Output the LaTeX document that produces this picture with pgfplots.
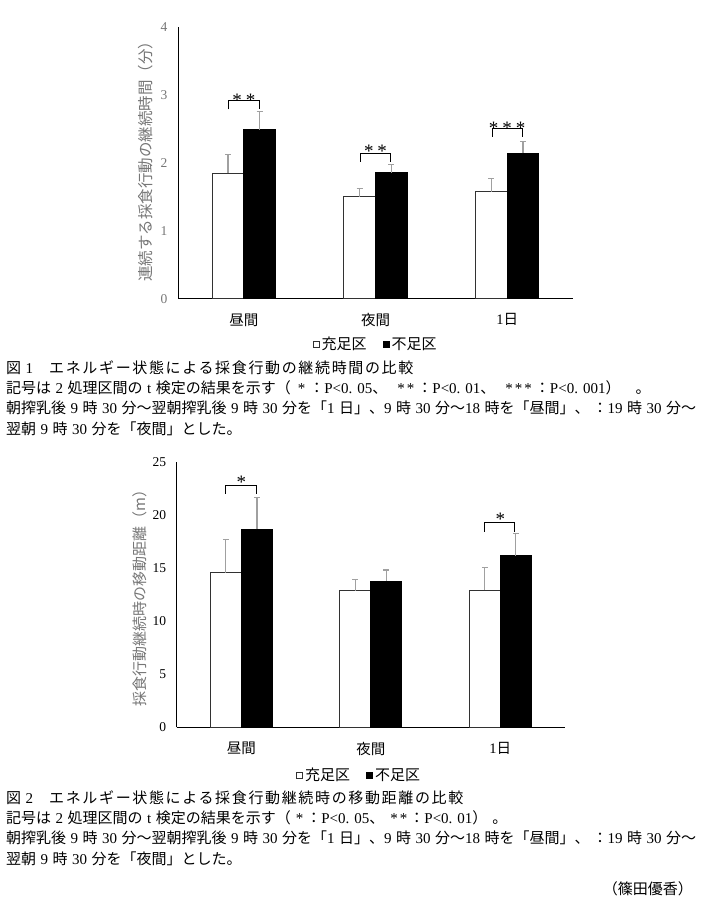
\documentclass[border=0pt]{standalone}
\usepackage{fontspec}
\setmainfont{Liberation Serif}
\newfontfamily\jp{Noto Sans CJK JP}
\usepackage{pgfplots}
\pgfplotsset{compat=1.18}
\definecolor{lblgray}{RGB}{118,118,118}
\definecolor{errgray}{RGB}{160,160,160}
\definecolor{edge}{RGB}{50,50,50}
\newcommand{\capfont}{\fontsize{15}{18}\selectfont}
\newcommand{\s}{\hspace{4.5pt}}
\tikzset{star/.style={anchor=base, font=\fontsize{19}{19}\selectfont}}
\pgfplotsset{
  mybars/.style={
    scale only axis,
    anchor=south west,
    xmin=-0.5, xmax=2.5,
    ymin=0,
    axis x line*=bottom,
    axis y line*=left,
    axis line style={black, line width=1pt},
    tick style={draw=none},
    /pgf/number format/assume math mode=true,
    xtick={0,1,2},
    xticklabels={{\jp 昼間},{\jp 夜間},{1\jp 日}},
    xticklabel style={font=\fontsize{14.5}{16}\selectfont, yshift=-11pt},
    yticklabel style={font=\fontsize{13.5}{15}\selectfont, xshift=-7pt},
    legend style={draw=none, fill=none, legend columns=2, font=\jp\fontsize{15}{17}\selectfont,
      /tikz/every even column/.append style={column sep=14pt}},
  },
  sq/.style={legend image code/.code={\draw[##1, line width=1pt] (0pt,-3pt) rectangle (6pt,3pt);}},
  errs/.style={sharp plot, draw=none, mark=none, forget plot,
      error bars/.cd, y dir=plus, y explicit,
      error bar style={draw=errgray, line width=1.2pt},
      error mark=-,
      error mark options={rotate=90, draw=errgray, line width=1.2pt, mark size=3pt}},
  brk/.style={black, line width=1pt, mark=none, forget plot},
}
\begin{document}
\begin{tikzpicture}[x=1pt,y=1pt]
\path[use as bounding box] (0,0) rectangle (705,900);

% ---------- Figure 1 ----------
\begin{axis}[mybars,
  at={(178pt,601pt)}, width=395pt, height=272pt,
  ymax=4, ytick={0,1,2,3,4},
  yticklabel style={color=lblgray},
  ylabel={連続する採食行動の継続時間（分）},
  ylabel style={at={(axis description cs:-0.081,0.52)}, anchor=center, color=lblgray, font=\jp\fontsize{15.5}{16}\selectfont},
  legend style={at={(0.50,-0.1665)}, anchor=center},
]
\addplot[ybar, sq, bar width=0.24, bar shift=-0.12, fill=white, draw=edge, line width=1pt]
  coordinates {(0,1.85) (1,1.50) (2,1.58)};
\addlegendentry{充足区}
\addplot[ybar, sq, bar width=0.24, bar shift=0.12, fill=black, draw=black, line width=1pt]
  coordinates {(0,2.49) (1,1.86) (2,2.14)};
\addlegendentry{不足区}
\addplot[errs] coordinates {(-0.12,1.85) +- (0,0.28) (0.88,1.50) +- (0,0.12) (1.88,1.58) +- (0,0.19)};
\addplot[errs] coordinates {(0.12,2.49) +- (0,0.27) (1.12,1.86) +- (0,0.12) (2.12,2.14) +- (0,0.18)};
\addplot[brk] coordinates {(-0.12,2.79) (-0.12,2.92) (0.12,2.92) (0.12,2.79)};
\addplot[brk] coordinates {(0.885,2.02) (0.885,2.143) (1.115,2.143) (1.115,2.02)};
\addplot[brk] coordinates {(1.885,2.387) (1.885,2.51) (2.115,2.51) (2.115,2.387)};
\node[star] at (axis cs:0,2.838) {*\hspace{4pt}*};
\node[star] at (axis cs:1,2.088) {*\hspace{4pt}*};
\node[star] at (axis cs:2,2.426) {*\hspace{4pt}*\hspace{4pt}*};
\end{axis}

% ---------- Figure 2 ----------
\begin{axis}[mybars,
  at={(176.7pt,172.7pt)}, width=388.3pt, height=265.6pt,
  ymax=25, ytick={0,5,10,15,20,25},
  ylabel={採食行動継続時の移動距離（m）},
  ylabel style={at={(axis description cs:-0.0945,0.5)}, anchor=center, color=lblgray, font=\jp\fontsize{15}{16}\selectfont},
  legend style={at={(0.47,-0.18)}, anchor=center},
]
\addplot[ybar, sq, bar width=0.24, bar shift=-0.12, fill=white, draw=edge, line width=1pt]
  coordinates {(0,14.56) (1,12.83) (2,12.90)};
\addlegendentry{充足区}
\addplot[ybar, sq, bar width=0.24, bar shift=0.12, fill=black, draw=black, line width=1pt]
  coordinates {(0,18.64) (1,13.75) (2,16.13)};
\addlegendentry{不足区}
\addplot[errs] coordinates {(-0.12,14.56) +- (0,3.08) (0.88,12.83) +- (0,1.10) (1.88,12.90) +- (0,2.17)};
\addplot[errs] coordinates {(0.12,18.64) +- (0,3.02) (1.12,13.75) +- (0,1.06) (2.12,16.13) +- (0,2.14)};
\addplot[brk] coordinates {(-0.12,22.0) (-0.12,22.79) (0.12,22.79) (0.12,22.0)};
\addplot[brk] coordinates {(1.88,18.39) (1.88,19.24) (2.11,19.24) (2.11,18.39)};
\node[star] at (axis cs:0,22.5) {*};
\node[star] at (axis cs:2,18.95) {*};
\end{axis}

% ---------- Captions ----------
\begin{scope}[every node/.style={anchor=west, inner sep=0pt, font=\capfont}]
\node at (6,532) {{\jp 図}\s 1\hspace{16pt}{\jp\addfontfeature{LetterSpace=11}エネルギー状態による採食行動の継続時間の比較}};
\node at (6,512) {{\jp 記号は}\s 2\s{\jp 処理区間の}\s t\s{\jp 検定の結果を示す（}\hspace{7pt}*\hspace{4pt}{\jp ：}P<0. 05{\jp 、}\hspace{10pt}*\hspace{2pt}*\hspace{3pt}{\jp ：}P<0. 01{\jp 、}\hspace{10pt}*\hspace{2pt}*\hspace{2pt}*\hspace{3pt}{\jp ：}P<0. 001{\jp ）}\hspace{15pt}{\jp 。}};
\node at (6,492) {{\jp 朝搾乳後}\s 9\s{\jp 時}\s 30\s{\jp 分～翌朝搾乳後}\s 9\s{\jp 時}\s 30\s{\jp 分を「}1\s{\jp 日」、}9\s{\jp 時}\s 30\s{\jp 分～}18\s{\jp 時を「昼間」、\hspace{3pt}：}19\s{\jp 時}\s 30\s{\jp 分～}};
\node at (6,471) {{\jp 翌朝}\s 9\s{\jp 時}\s 30\s{\jp 分を「夜間」とした。}};

\node at (6,102) {{\jp 図}\s 2\hspace{16pt}{\jp\addfontfeature{LetterSpace=11}エネルギー状態による採食行動継続時の移動距離の比較}};
\node at (6,82) {{\jp 記号は}\s 2\s{\jp 処理区間の}\s t\s{\jp 検定の結果を示す（}\hspace{5pt}*\hspace{3pt}{\jp ：}P<0. 05{\jp 、}\hspace{6pt}*\hspace{2pt}*\hspace{2pt}{\jp ：}P<0. 01{\jp ）}\hspace{5pt}{\jp 。}};
\node at (6,62) {{\jp 朝搾乳後}\s 9\s{\jp 時}\s 30\s{\jp 分～翌朝搾乳後}\s 9\s{\jp 時}\s 30\s{\jp 分を「}1\s{\jp 日」、}9\s{\jp 時}\s 30\s{\jp 分～}18\s{\jp 時を「昼間」、\hspace{3pt}：}19\s{\jp 時}\s 30\s{\jp 分～}};
\node at (6,41) {{\jp 翌朝}\s 9\s{\jp 時}\s 30\s{\jp 分を「夜間」とした。}};
\node[anchor=east] at (693,11) {{\jp （篠田優香）}};
\end{scope}
\end{tikzpicture}
\end{document}
